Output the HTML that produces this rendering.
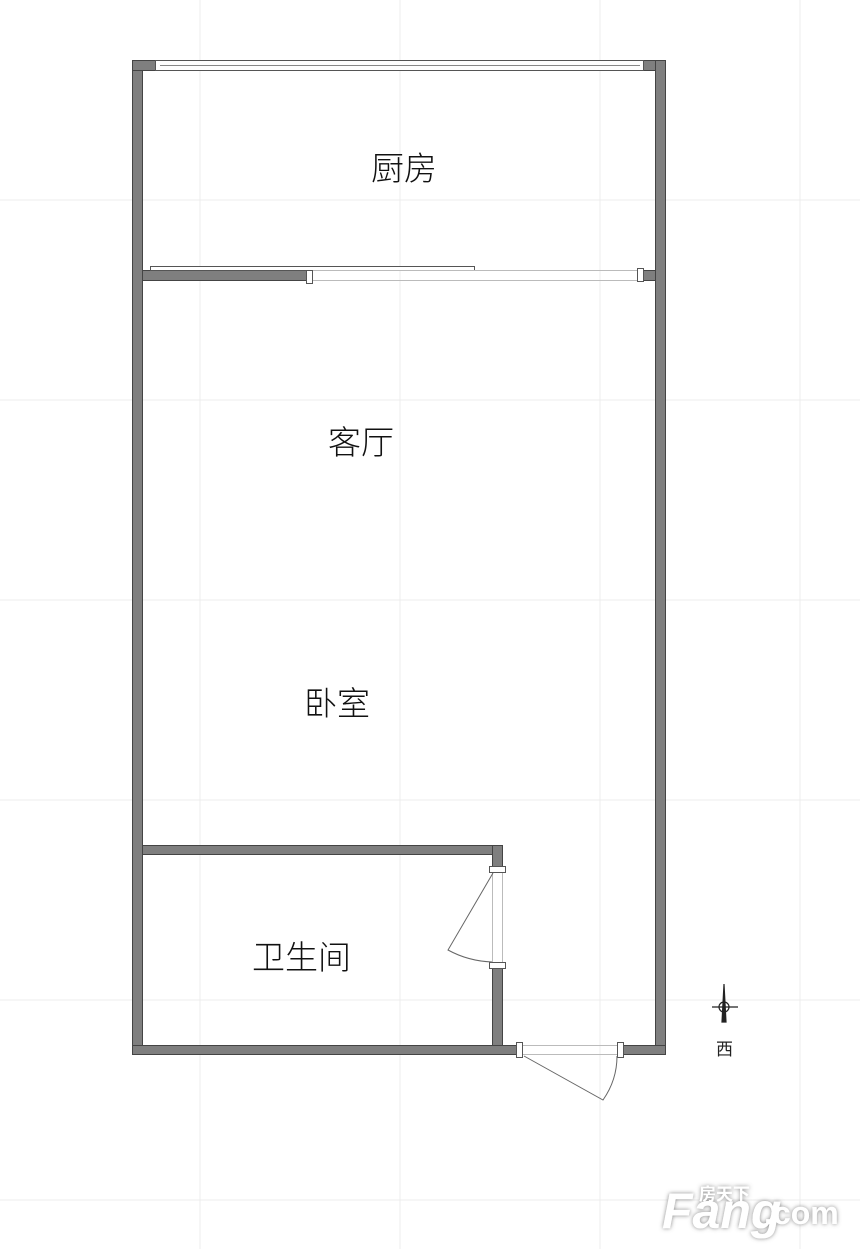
<!DOCTYPE html>
<html><head><meta charset="utf-8"><style>
body{margin:0;background:#fff}
svg{display:block}
text{font-family:"Liberation Sans","Noto Sans CJK SC",sans-serif}
</style></head><body>
<svg width="860" height="1249" viewBox="0 0 860 1249" xmlns="http://www.w3.org/2000/svg">
<defs><filter id="sh" x="-10%" y="-20%" width="120%" height="140%"><feDropShadow dx="0" dy="0" stdDeviation="2" flood-color="#777" flood-opacity="0.9"/></filter></defs>
<g stroke="#ececec" stroke-width="1">
<line x1="200" y1="0" x2="200" y2="1249"/><line x1="400" y1="0" x2="400" y2="1249"/>
<line x1="600" y1="0" x2="600" y2="1249"/><line x1="800" y1="0" x2="800" y2="1249"/>
<line x1="0" y1="200" x2="860" y2="200"/><line x1="0" y1="400" x2="860" y2="400"/>
<line x1="0" y1="600" x2="860" y2="600"/><line x1="0" y1="800" x2="860" y2="800"/>
<line x1="0" y1="1000" x2="860" y2="1000"/><line x1="0" y1="1200" x2="860" y2="1200"/>
</g>
<g fill="#7f7f7f" stroke="#444" stroke-width="1">
<rect x="132.5" y="60.5" width="10" height="994"/>
<rect x="132.5" y="60.5" width="23" height="10"/>
<rect x="643.5" y="60.5" width="22" height="10"/>
<rect x="655.5" y="60.5" width="10" height="994"/>
<rect x="142.5" y="270.5" width="164" height="10"/>
<rect x="643.5" y="270.5" width="12" height="10"/>
<rect x="142.5" y="845.5" width="360" height="9"/>
<rect x="492.5" y="845.5" width="10" height="25"/>
<rect x="492.5" y="965.5" width="10" height="89"/>
<rect x="132.5" y="1045.5" width="388" height="9"/>
<rect x="620.5" y="1045.5" width="45" height="9"/>
</g>
<g fill="none" stroke="#555" stroke-width="1">
<rect x="155.5" y="60.5" width="488" height="10" fill="#fff"/>
<line x1="160" y1="65.5" x2="640" y2="65.5" stroke="#888"/>
<rect x="150.5" y="266.5" width="324" height="4" fill="#fff"/>
<line x1="310" y1="270.5" x2="640" y2="270.5" stroke="#bbb"/>
<line x1="310" y1="280.5" x2="640" y2="280.5" stroke="#bbb"/>
<rect x="306.5" y="270.5" width="6" height="13" fill="#fff"/>
<rect x="637.5" y="268.5" width="6" height="13" fill="#fff"/>
<line x1="492.5" y1="873" x2="492.5" y2="963" stroke="#bbb"/>
<line x1="502.5" y1="873" x2="502.5" y2="963" stroke="#bbb"/>
<rect x="489.5" y="866.5" width="16" height="6" fill="#fff"/>
<rect x="489.5" y="962.5" width="16" height="6" fill="#fff"/>
<path d="M493 873 L448 950 Q468 961 492 962" stroke="#666"/>
<line x1="522" y1="1045.5" x2="620" y2="1045.5" stroke="#bbb"/>
<line x1="522" y1="1054.5" x2="620" y2="1054.5" stroke="#bbb"/>
<rect x="516.5" y="1042.5" width="6" height="15" fill="#fff"/>
<rect x="617.5" y="1042.5" width="6" height="15" fill="#fff"/>
<path d="M524 1056 L603 1100 Q617 1080 617 1056" stroke="#666"/>
</g>
<g stroke="#222" stroke-width="1.2" fill="none">
<line x1="712" y1="1007" x2="738" y2="1007"/>
<circle cx="724" cy="1007" r="5"/>
<path d="M724 984 L726 1022 L722 1022 Z" fill="#222"/>
</g>
<g font-size="33" fill="#111" font-weight="300">
<text x="371" y="180">厨房</text>
<text x="328" y="454">客厅</text>
<text x="304" y="715">卧室</text>
<text x="252" y="969">卫生间</text>
</g>
<text x="716" y="1055" font-size="17" fill="#222">西</text>
<g font-family="Liberation Sans" font-weight="bold" fill="#fff" filter="url(#sh)">
<text x="662" y="1228" font-size="50" font-style="italic">Fang</text>
<text x="764" y="1224" font-size="32">.com</text>
<text x="699" y="1200" font-size="17" font-family="Noto Sans CJK SC">房天下</text>
</g>
</svg>
</body></html>
